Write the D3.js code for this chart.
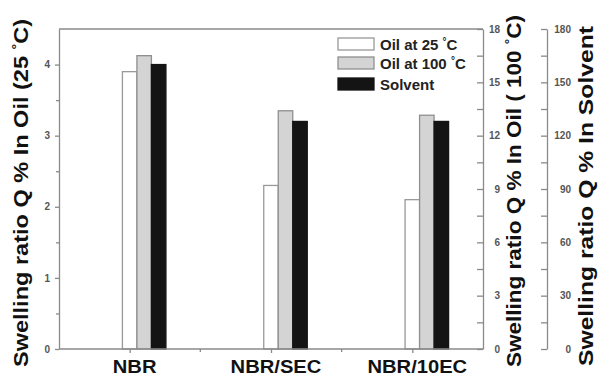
<!DOCTYPE html>
<html>
<head>
<meta charset="utf-8">
<script src="https://cdn.jsdelivr.net/npm/d3@7"></script>
<style>
  html, body { margin: 0; padding: 0; background: #fff; }
  svg { display: block; }
  text { font-family: "Liberation Sans", Arial, sans-serif; }
</style>
</head>
<body>
<svg id="chart" width="598" height="376"></svg>
<script>
// Samples and swelling ratios, one scale per medium
const categories = ["NBR", "NBR/SEC", "NBR/10EC"];
const oil25 = [3.9, 2.3, 2.1];        // left axis, Q % in oil at 25 °C
const oil100 = [16.5, 13.4, 13.15];   // first right axis, Q % in oil at 100 °C
const solvent = [160, 128, 128];      // second right axis, Q % in solvent

const leftTicks = [0, 1, 2, 3, 4];
const oilHotTicks = [0, 3, 6, 9, 12, 15, 18];
const solventTicks = [0, 30, 60, 90, 120, 150, 180];
const legendLabels = ["Oil at 25 ", "Oil at 100 ", "Solvent"];

const svg = d3.select("#chart");
const plotL = 59, plotR = 483, plotT = 29, plotB = 349, axis3X = 547;
const axisColor = "#8a8a8a";
const labelColor = "#555";

const x = d3.scalePoint().domain(categories).range([plotL, plotR]).padding(0.5);
const yL = d3.scaleLinear().domain([0, 4.5]).range([plotB, plotT]);
const yR = d3.scaleLinear().domain([0, 18]).range([plotB, plotT]);
const yS = d3.scaleLinear().domain([0, 180]).range([plotB, plotT]);

const bw = 14.5;

// Bars: each series on its own scale, placed side by side
const series = [
  { vals: oil25, scale: yL, off: -bw / 2, fill: "#ffffff", stroke: "#999" },
  { vals: oil100, scale: yR, off: bw / 2, fill: "#d4d4d4", stroke: "#8f8f8f" },
  { vals: solvent, scale: yS, off: bw * 1.5, fill: "#141414", stroke: "#141414" }
];
series.forEach(s => {
  svg.append("g").selectAll("rect")
    .data(categories)
    .join("rect")
    .attr("x", (c) => x(c) + s.off)
    .attr("y", (c, i) => s.scale(s.vals[i]))
    .attr("width", bw)
    .attr("height", (c, i) => plotB - s.scale(s.vals[i]))
    .attr("fill", s.fill)
    .attr("stroke", s.stroke)
    .attr("stroke-width", 1.3);
});

function styleAxis(g) {
  g.selectAll("path, line").attr("stroke", axisColor).attr("stroke-width", 1.3);
  g.selectAll("text")
    .attr("fill", labelColor)
    .attr("font-size", 10)
    .attr("font-weight", "bold");
}

// Frame top line
svg.append("line")
  .attr("x1", plotL).attr("x2", plotR).attr("y1", plotT).attr("y2", plotT)
  .attr("stroke", axisColor).attr("stroke-width", 1.3);

// Left axis with minor ticks
const gL = svg.append("g").attr("transform", `translate(${plotL},0)`)
  .call(d3.axisLeft(yL).tickValues(leftTicks).tickFormat(d3.format("d"))
    .tickSize(4).tickPadding(5).tickSizeOuter(0));
styleAxis(gL);
const gLm = svg.append("g").attr("transform", `translate(${plotL},0)`)
  .call(d3.axisLeft(yL).tickValues([0.5, 1.5, 2.5, 3.5]).tickSize(3).tickFormat(""));
gLm.select("path").remove();
styleAxis(gLm);

// Bottom axis
const gB = svg.append("g").attr("transform", `translate(0,${plotB})`)
  .call(d3.axisBottom(x).tickSize(4).tickFormat("").tickSizeOuter(0));
styleAxis(gB);
gB.select("path").attr("d", `M${plotL},0H${plotR}`);
const mids = d3.pairs(categories).map(([a, b]) => (x(a) + x(b)) / 2);
gB.selectAll(".minor").data(mids).join("line")
  .attr("x1", d => d).attr("x2", d => d).attr("y1", 0).attr("y2", 3)
  .attr("stroke", axisColor).attr("stroke-width", 1.3);

// Category labels, drawn slightly wide
svg.append("g").selectAll("text")
  .data(categories)
  .join("text")
  .attr("x", c => x(c) + 5)
  .attr("y", 372.5)
  .attr("text-anchor", "middle")
  .attr("font-size", 18)
  .attr("font-weight", "bold")
  .attr("fill", "#111")
  .text(c => c)
  .each(function () {
    const w = this.getComputedTextLength();
    d3.select(this).attr("textLength", w * 1.12).attr("lengthAdjust", "spacingAndGlyphs");
  });

// Right-hand axes: ticks point inward, labels sit outside
function rightAxis(xpos, scale, ticks, minor, labelX) {
  const g = svg.append("g").attr("transform", `translate(${xpos},0)`);
  g.call(d3.axisLeft(scale).tickValues(ticks).tickSize(6).tickFormat("").tickSizeOuter(0));
  g.append("g").call(d3.axisLeft(scale).tickValues(minor).tickSize(6).tickFormat(""))
    .select("path").remove();
  styleAxis(g);
  svg.append("g").selectAll("text")
    .data(ticks)
    .join("text")
    .attr("x", labelX)
    .attr("y", d => scale(d))
    .attr("dy", "0.35em")
    .attr("text-anchor", "end")
    .attr("font-size", 10)
    .attr("font-weight", "bold")
    .attr("fill", labelColor)
    .text(d => d);
}
rightAxis(plotR, yR, oilHotTicks, d3.range(1.5, 18, 3), 500);
rightAxis(axis3X, yS, solventTicks, d3.range(15, 180, 30), 571);

// Axis titles
function vTitle(cx, cy, len, parts) {
  const t = svg.append("text")
    .attr("transform", `translate(${cx},${cy}) rotate(-90)`)
    .attr("text-anchor", "middle")
    .attr("font-size", 20)
    .attr("font-weight", "bold")
    .attr("fill", "#111")
    .attr("textLength", len)
    .attr("lengthAdjust", "spacingAndGlyphs");
  parts.forEach(p => {
    const s = t.append("tspan").text(p.t);
    if (p.sup) s.attr("baseline-shift", "super").attr("font-size", 12);
  });
  return t;
}
vTitle(28, 193, 348, [{ t: "Swelling ratio Q % In Oil (25 " }, { t: "°", sup: true }, { t: "C)" }]);
vTitle(521, 191, 352, [{ t: "Swelling ratio Q % In Oil ( 100 " }, { t: "°", sup: true }, { t: "C)" }]);
vTitle(593, 196, 340, [{ t: "Swelling ratio Q % In Solvent" }]);

// Legend
const legend = svg.append("g");
const rows = [38, 57, 78];
series.forEach((s, i) => {
  legend.append("rect")
    .attr("x", 338).attr("y", rows[i]).attr("width", 36).attr("height", 12)
    .attr("fill", s.fill).attr("stroke", s.stroke).attr("stroke-width", 1.3);
  const t = legend.append("text")
    .attr("x", 380).attr("y", rows[i] + 11.5)
    .attr("font-size", 15).attr("font-weight", "bold").attr("fill", "#222");
  t.append("tspan").text(legendLabels[i]);
  if (i < 2) {
    t.append("tspan").text("°").attr("baseline-shift", "super").attr("font-size", 10);
    t.append("tspan").text("C");
  }
});
</script>
</body>
</html>
